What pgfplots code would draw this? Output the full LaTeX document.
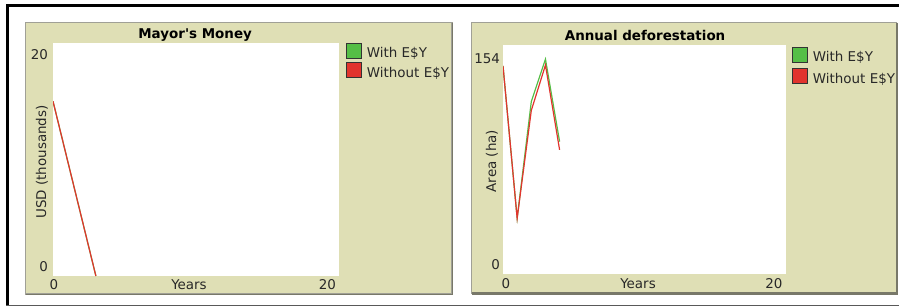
\documentclass[border=0pt]{standalone}
\usepackage{fontspec}
\setmainfont{DejaVu Sans}
\usepackage{pgfplots}
\pgfplotsset{compat=1.18}
\definecolor{khaki}{RGB}{223,223,181}
\definecolor{pborder}{RGB}{160,160,150}
\definecolor{pshadow}{RGB}{120,120,105}
\definecolor{nlred}{RGB}{226,52,46}
\definecolor{nlgreen}{RGB}{85,190,70}
\definecolor{txt}{RGB}{40,40,40}
\pgfplotsset{
  nlplot/.style={
    scale only axis,
    axis background/.style={fill=white},
    axis line style={draw=none},
    major tick length=0pt,
    tick style={draw=none},
    xmin=0, xmax=20, ymin=0,
    font=\fontsize{13.5}{16}\selectfont,
    /pgf/number format/assume math mode=true,
    every tick label/.append style={inner sep=0pt, outer sep=0pt, text=txt, font=\fontsize{13.5}{16}\selectfont},
    title style={font=\fontsize{13.5}{16}\selectfont\bfseries, inner sep=0pt, anchor=center, text=black},
    label style={inner sep=0pt, outer sep=0pt, text=txt, font=\fontsize{13.5}{16}\selectfont},
    legend cell align=left,
    legend image code/.code={\filldraw[##1, draw=black!80, line width=0.9bp] (0bp,-0.5bp) rectangle (15bp,14.5bp);},
    legend style={draw=none, fill=none, inner sep=0pt, outer sep=0pt, anchor=north west,
      column sep=5bp, font=\fontsize{13.5}{16}\selectfont, text=txt,
      nodes={inner sep=0pt, outer sep=0pt, anchor=base west}},
  },
}
\begin{document}
\begin{tikzpicture}
\begin{scope}[x=1bp,y=-1bp]
  \path[use as bounding box] (0,0) rectangle (899,307);
  \fill[white] (0,0) rectangle (899,307);
  \fill[black] (6,3.5) rectangle (899,7);
  \fill[black] (6,3.5) rectangle (9,306);
  \fill[black!65] (6,304.5) rectangle (899,306);
  % panel 1
  \filldraw[fill=khaki, draw=pborder, line width=1.2] (25.5,22.5) rectangle (452,294);
  \draw[pshadow, line width=1.6] (452.3,22.5) -- (452.3,294.3) -- (25.5,294.3);
  % panel 2
  \filldraw[fill=khaki, draw=pborder, line width=1.2] (471.5,22.5) rectangle (896.5,293);
  \draw[pshadow, line width=2.4] (897,22.5) -- (897,293.5) -- (471.5,293.5);
\end{scope}

% ---------- Mayor's Money ----------
\begin{axis}[nlplot,
  at={(53bp,-276bp)}, anchor=south west,
  width=286bp, height=233bp,
  ymax=20,
  xtick={0}, extra x ticks={20},
  xticklabel style={anchor=center, yshift=-9bp, xshift=1bp},
  extra x tick style={xticklabel style={anchor=east, xshift=-4bp}},
  ytick={0}, extra y ticks={20},
  yticklabel style={anchor=east, xshift=-5bp, yshift=9bp},
  extra y tick style={yticklabel style={yshift=-21bp}},
  title={Mayor\textquotesingle s Money},
  title style={at={(axis description cs:0.497,1)}, yshift=2bp},
  xlabel={Years},
  xlabel style={at={(axis description cs:0.4755,0)}, anchor=center, yshift=-9bp},
  ylabel={USD (thousands)},
  ylabel style={at={(axis description cs:0,0.489)}, anchor=center, yshift=11bp},
  legend style={at={(axis description cs:1.0245,1)}, row sep=3bp},
]
\addplot[nlgreen, line width=1.2bp] coordinates {(0,15) (1,10) (2,5) (3,0)};
\addlegendentry{With E\$Y}
\addplot[nlred, line width=1.2bp] coordinates {(0,15) (1,10) (2,5) (3,0)};
\addlegendentry{Without E\$Y}
\end{axis}

% ---------- Annual deforestation ----------
\begin{axis}[nlplot,
  at={(503bp,-274bp)}, anchor=south west,
  width=283bp, height=229bp,
  ymax=154,
  xtick={0}, extra x ticks={20},
  xticklabel style={anchor=center, yshift=-10bp, xshift=3bp},
  extra x tick style={xticklabel style={anchor=east, xshift=-6.5bp}},
  ytick={0}, extra y ticks={154},
  yticklabel style={anchor=east, xshift=-3bp, yshift=9bp},
  extra y tick style={yticklabel style={yshift=-23bp}},
  title={Annual deforestation},
  title style={at={(axis description cs:0.502,1)}, yshift=4bp},
  xlabel={Years},
  xlabel style={at={(axis description cs:0.477,0)}, anchor=center, yshift=-10bp},
  ylabel={Area (ha)},
  ylabel style={at={(axis description cs:0,0.493)}, anchor=center, yshift=11bp},
  legend style={at={(axis description cs:1.0212,0.9926)}, row sep=5bp},
]
\addplot[nlgreen, line width=1.2bp] coordinates {(0,140) (1,37.5) (2,116) (3,144.5) (4,89)};
\addlegendentry{With E\$Y}
\addplot[nlred, line width=1.2bp] coordinates {(0,140) (1,37.5) (2,110) (3,140.5) (4,83.5)};
\addlegendentry{Without E\$Y}
\end{axis}
\end{tikzpicture}
\end{document}
